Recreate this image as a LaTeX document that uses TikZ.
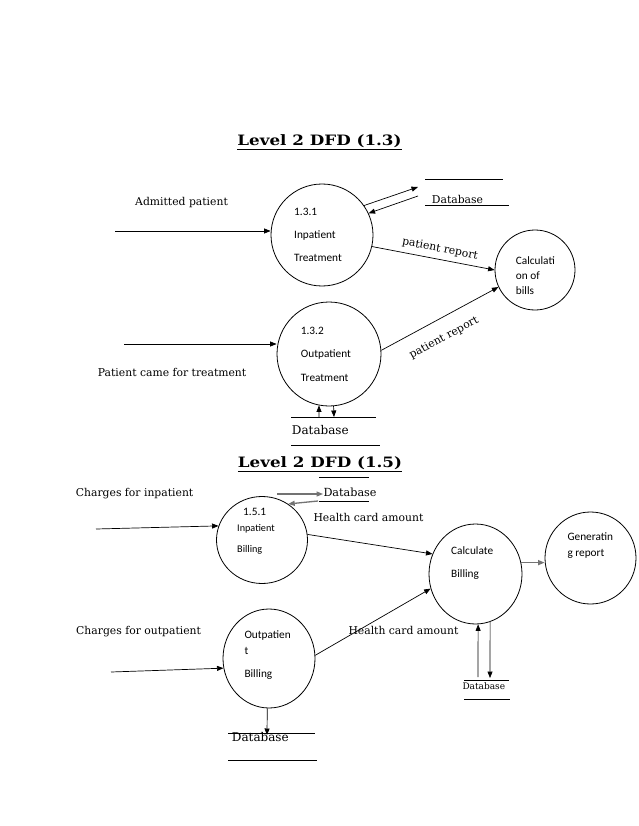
\documentclass[tikz,border=0pt]{standalone}
\usepackage{fontspec}
\usepackage{graphicx}
\setmainfont{DejaVu Serif}
\newfontfamily\calib{Carlito}
\usetikzlibrary{arrows.meta,shapes.geometric}
\begin{document}
\begin{tikzpicture}[x=1pt,y=-1pt,
  proc/.style={draw, inner sep=0pt, line width=0.8pt},
  lbl/.style={font=\fontsize{10.8}{12}\selectfont, inner sep=0pt, anchor=base west},
  ptxt/.style={font=\calib\fontsize{11.3}{13}\selectfont, inner sep=0pt, anchor=base west},
  stxt/.style={font=\calib\fontsize{10.2}{12}\selectfont, inner sep=0pt, anchor=base west},
  flow/.style={-{Triangle[length=6.5pt,width=5pt]}, line width=0.7pt},
  gflow/.style={-{Triangle[length=6.5pt,width=5pt]}, line width=1.3pt, draw=black!55},
  storeline/.style={line width=0.7pt},
  ttl/.style={font=\bfseries\fontsize{14.3}{16}\selectfont, inner sep=0pt, anchor=base}]
\useasboundingbox[fill=white] (0,0) rectangle (638,826);

% ---------- Level 2 DFD (1.3) ----------
\node[ttl] (title1) at (319.5,146) {\scalebox{1.17}[1]{\underline{Level 2 DFD (1.3)}}};

\node[proc, circle, minimum size=102pt] (c131) at (322,235) {};
\node[ptxt] (t131a) at (294,215) {1.3.1};
\node[ptxt] (t131b) at (294,238) {Inpatient};
\node[ptxt] (t131c) at (294,261) {Treatment};

\node[proc, circle, minimum size=80pt] (calc) at (535,270) {};
\node[ptxt] (tca) at (515.7,264.5) {Calculati};
\node[ptxt] (tcb) at (515.7,279) {on of};
\node[ptxt] (tcc) at (515.7,294) {bills};

\node[proc, circle, minimum size=104pt] (c132) at (329,354) {};
\node[ptxt] (t132a) at (300.7,334) {1.3.2};
\node[ptxt] (t132b) at (300.7,357) {Outpatient};
\node[ptxt] (t132c) at (300.7,381) {Treatment};

\node[lbl] (l1) at (135,205.7) {Admitted patient};
\node[lbl] (l2) at (97.7,376.7) {Patient came for treatment};
\node[lbl] (db1) at (431.7,204) {Database};
\node[lbl, font=\fontsize{12}{14}\selectfont] (db2) at (291.7,434.3) {Database};
\node[font=\fontsize{10.8}{12}\selectfont, inner sep=0pt, rotate=-11] (pr1) at (440,249) {patient report};
\node[font=\fontsize{10.8}{12}\selectfont, inner sep=0pt, rotate=28.5] (pr2) at (444,338) {patient report};

\draw[storeline] (425,179) -- (503,179);
\draw[storeline] (425,205) -- (509,205);
\draw[storeline] (291,417) -- (376,417);
\draw[storeline] (291,445) -- (380,445);

\coordinate (in131) at (115,231);
\coordinate (db1in) at (418,187);
\coordinate (db1out) at (418,196);
\coordinate (in132) at (124,344);
\coordinate (db2up) at (319,417);
\coordinate (db2dn) at (334,417);

\draw[flow] (in131) -- (in131 -| c131.west);
\draw[flow] (c131.35) -- (db1in);
\draw[flow] (db1out) -- (c131.25);
\draw[flow] (c131.347) -- (calc.west);
\draw[flow] (in132) -- (in132 -| c132.west);
\draw[flow] (c132.4) -- (calc.205);
\draw[flow] (db2up) -- (c132.259);
\draw[flow] (c132.275.5) -- (db2dn);

% ---------- Level 2 DFD (1.5) ----------
\node[ttl] (title2) at (320,467.7) {\scalebox{1.17}[1]{\underline{Level 2 DFD (1.5)}}};

\node[proc, ellipse, minimum width=91pt, minimum height=87pt] (c151) at (262,540) {};
\node[ptxt] (t151a) at (243,515.7) {1.5.1};
\node[stxt] (t151b) at (237,531.3) {Inpatient};
\node[stxt] (t151c) at (237,552.7) {Billing};

\node[proc, ellipse, minimum width=93pt, minimum height=100pt] (cb) at (475.5,574) {};
\node[ptxt] (tcba) at (451,554) {Calculate};
\node[ptxt] (tcbb) at (451,577.7) {Billing};

\node[proc, ellipse, minimum width=91pt, minimum height=92pt] (gen) at (590.5,558) {};
\node[ptxt] (tga) at (567.3,540.7) {Generatin};
\node[ptxt] (tgb) at (567.3,556.3) {g report};

\node[proc, ellipse, minimum width=92pt, minimum height=99pt] (c152) at (269,658.5) {};
\node[ptxt] (t152a) at (244.3,638.3) {Outpatien};
\node[ptxt] (t152b) at (244.3,654) {t};
\node[ptxt] (t152c) at (244.3,677.3) {Billing};

\node[lbl] (l3) at (75.7,496) {Charges for inpatient};
\node[lbl] (l4) at (76,634) {Charges for outpatient};
\node[lbl] (l5) at (313.3,521.7) {Health card amount};
\node[lbl] (l6) at (348.3,634) {Health card amount};
\node[lbl, font=\fontsize{11.2}{13}\selectfont] (db3) at (323.3,496.3) {Database};
\node[lbl, font=\fontsize{12}{14}\selectfont] (db4t) at (231.7,741.7) {Database};
\node[lbl, font=\fontsize{9}{11}\selectfont] (db5) at (462.3,689) {Database};

\draw[storeline] (319,477) -- (369,477);
\draw[storeline] (319,501) -- (369,501);
\draw[storeline] (228,733) -- (315,733);
\draw[storeline] (228,760) -- (317,760);
\draw[storeline] (464,680) -- (509,680);
\draw[storeline] (464,699) -- (510,699);

\coordinate (in151) at (96,529);
\coordinate (db3a) at (277,494);
\coordinate (db3b) at (323,494);
\coordinate (db3c) at (318,501);
\coordinate (in152) at (111,672);
\coordinate (db4) at (267,735);
\coordinate (db5up) at (478,677);
\coordinate (db5dn) at (490,678);

\draw[flow] (in151) -- (c151.162);
\draw[gflow] (db3a) -- (db3b);
\draw[gflow] (db3c) -- (c151.54);
\draw[flow] (c151.7) -- (cb.155);
\draw[flow] (c152.4) -- (cb.198);
\draw[gflow] (cb.14) -- (cb.14 -| gen.west);
\draw[flow] (in152) -- (c152.192);
\draw[flow] (c152.268) -- (db4);
\draw[flow] (db5up) -- (cb.273);
\draw[flow] (cb.287) -- (db5dn);
\end{tikzpicture}
\end{document}
